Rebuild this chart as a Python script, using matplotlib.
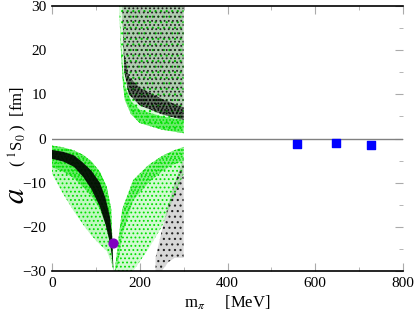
import matplotlib
matplotlib.use("Agg")
import matplotlib.pyplot as plt

plt.rcParams['font.family'] = ['Liberation Serif', 'DejaVu Serif']
plt.rcParams['mathtext.fontset'] = 'stix'
plt.rcParams['hatch.linewidth'] = 0.8

# ---- data ----
# lower-left dense black band (physical branch)
ll_x = [0, 25, 50, 71, 90, 109, 122, 132, 137, 140]
ll_black_hi = [-2.6, -3.0, -3.8, -5.5, -7.3, -10.0, -13.5, -17.7, -22.0, -30.0]
ll_black_lo = [-4.6, -5.2, -6.4, -8.7, -11.5, -15.4, -19.5, -23.6, -27.0, -30.0]
# lower-left green envelope
llg_x = [0, 25, 50, 71, 90, 109, 125, 135, 140]
llg_hi = [-1.6, -2.0, -2.7, -3.7, -5.2, -7.5, -11.0, -16.0, -30.0]
llg_lo = [-8.0, -12.5, -16.5, -19.5, -22.0, -24.0, -25.5, -28.0, -30.0]
llg_dense_lo = [-6.5, -7.5, -9.0, -11.0, -13.0, -16.0, -20.0, -25.0, -30.0]
# right "V" green region (negative a)
rg_x = [143, 150, 160, 185, 220, 250, 275, 300]
rg_hi = [-30.0, -24.0, -16.0, -9.4, -6.0, -4.0, -2.8, -1.9]
rg_lo = [-30.0, -30.0, -30.0, -30.0, -25.0, -20.0, -14.0, -8.0]
rg_dense_lo = [-30.0, -29.0, -22.0, -14.0, -10.0, -7.5, -6.0, -5.0]
# right black band (negative a)
rb_x = [236, 250, 265, 280, 300]
rb_hi = [-27.0, -21.0, -15.0, -10.0, -4.5]
rb_lo = [-30.0, -30.0, -28.0, -27.0, -27.0]
# upper green region (positive a)
ug_x = [153, 157, 162, 166, 180, 200, 250, 300]
ug_lo = [30.0, 20.0, 12.0, 8.7, 5.5, 3.5, 2.0, 1.2]
ug_dense_hi = [30.0, 22.0, 15.0, 12.0, 8.5, 6.5, 5.0, 4.2]
# upper black region (positive a)
ub_x = [160, 165, 175, 200, 250, 300]
ub_lo = [30.0, 15.0, 10.0, 7.5, 5.5, 4.2]
ub_dense_hi = [30.0, 19.0, 14.0, 11.5, 9.0, 7.0]
# lattice points and physical point
lat_m = [558, 647, 727]
lat_a = [-1.2, -1.0, -1.4]
phys_m = [139]
phys_a = [-23.7]

GREEN = '#00e000'

fig = plt.figure(figsize=(4.15, 3.18), dpi=100)
ax = fig.add_axes([52/415, 47/318, 351/415, 265/318])


def stipple(x, lo, hi, color, tone, hatch):
    ax.fill_between(x, lo, hi, facecolor=color, alpha=tone, linewidth=0)
    ax.fill_between(x, lo, hi, facecolor='none', edgecolor=color,
                    hatch=hatch, linewidth=0)


# green envelopes
stipple(llg_x, llg_lo, llg_hi, GREEN, 0.25, '....')
stipple(llg_x, llg_dense_lo, llg_hi, GREEN, 0.45, '.....')
stipple(rg_x, rg_lo, rg_hi, GREEN, 0.18, '....')
stipple(rg_x, rg_dense_lo, rg_hi, GREEN, 0.35, '.....')
stipple(ug_x, ug_lo, [30.0] * len(ug_x), GREEN, 0.15, '...')
stipple(ug_x, ug_lo, ug_dense_hi, GREEN, 0.5, '.....')

# black regions
stipple(ub_x, ub_lo, [30.0] * len(ub_x), '#222222', 0.22, '....')
stipple(ub_x, ub_lo, ub_dense_hi, '#000000', 0.45, '.....')
stipple(rb_x, rb_lo, rb_hi, '#222222', 0.18, '...')
ax.fill_between(ll_x, ll_black_lo, ll_black_hi, facecolor='black',
                alpha=0.9, linewidth=0)

ax.axhline(0, color='#808080', lw=1.0)

ax.scatter(lat_m, lat_a, marker='s', s=30, color='#0000ff', zorder=5)
ax.scatter(phys_m, phys_a, marker='o', s=40, color='#8000c0', zorder=6)

ax.set_xlim(0, 800)
ax.set_ylim(-30, 30)
ax.set_xticks([0, 200, 400, 600, 800])
ax.set_xticks([100, 300, 500, 700], minor=True)
ax.set_yticks([-30, -20, -10, 0, 10, 20, 30])
ax.set_yticks([-25, -15, -5, 5, 15, 25], minor=True)
ax.tick_params(axis='both', which='both', direction='in', color='#aaaaaa',
               labelsize=11, top=True, right=True, left=False, bottom=True)
ax.tick_params(which='major', length=6)
ax.tick_params(which='minor', length=3)
ax.tick_params(axis='y', pad=4)
ax.tick_params(axis='x', pad=4)
ax.spines['left'].set_visible(False)
ax.spines['right'].set_visible(False)
ax.spines['top'].set_linewidth(1.2)
ax.spines['bottom'].set_linewidth(1.2)

ax.set_xlabel(r'm$_\pi$     [MeV]', fontsize=12, labelpad=3)

fig.text(16/415, 1 - 196/318, r'$a$', rotation=90, fontsize=22,
         ha='center', va='center')
fig.text(18/415, 1 - 127/318, r'( $^1$S$_0$ )  [fm]', rotation=90,
         fontsize=12, ha='center', va='center')

fig.savefig('out.png', dpi=100)
